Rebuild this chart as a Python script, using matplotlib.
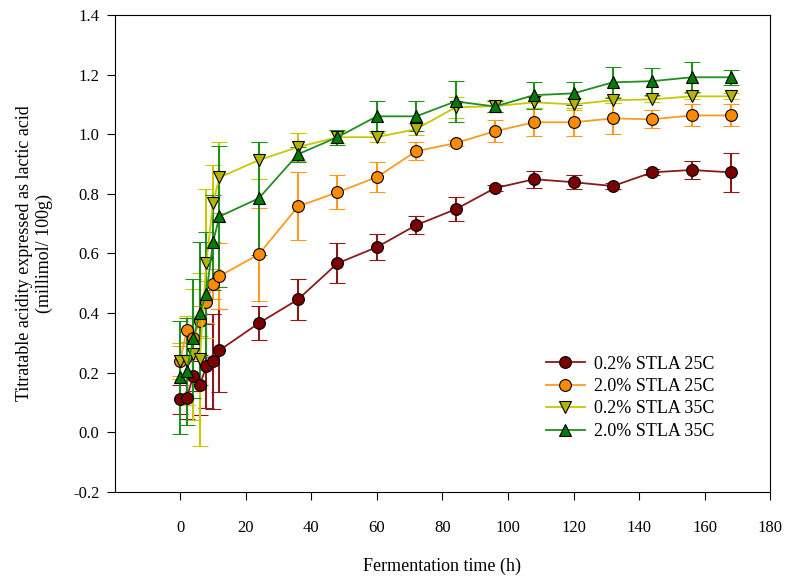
import matplotlib
matplotlib.use('Agg')
import matplotlib.pyplot as plt

plt.rcParams['font.family'] = ['Liberation Serif', 'DejaVu Serif']

# fermentation times (h)
time_h = [0, 2, 4, 6, 8, 10, 12, 24, 36, 48, 60, 72, 84, 96, 108, 120, 132, 144, 156, 168]

# 0.2% STLA 25C
s1_mean = [0.11, 0.114, 0.19, 0.158, 0.222, 0.238, 0.275, 0.366, 0.446, 0.567, 0.621, 0.695,
           0.748, 0.819, 0.849, 0.839, 0.826, 0.872, 0.88, 0.872]
s1_err = [0.05, 0.07, 0.05, 0.1, 0.14, 0.16, 0.14, 0.057, 0.068, 0.067, 0.043, 0.03,
          0.04, 0.01, 0.028, 0.024, 0.01, 0.01, 0.029, 0.066]

# 2.0% STLA 25C
s2_mean = [0.238, 0.342, 0.315, 0.372, 0.436, 0.497, 0.524, 0.597, 0.758, 0.805, 0.856, 0.943,
           0.97, 1.01, 1.04, 1.04, 1.053, 1.05, 1.063, 1.063]
s2_err = [0.05, 0.04, 0.07, 0.05, 0.07, 0.05, 0.11, 0.155, 0.114, 0.057, 0.05, 0.03,
          0.01, 0.037, 0.047, 0.047, 0.053, 0.03, 0.037, 0.037]

# 0.2% STLA 35C
s3_mean = [0.238, 0.24, 0.262, 0.245, 0.567, 0.768, 0.855, 0.913, 0.957, 0.99, 0.99, 1.017,
           1.09, 1.094, 1.107, 1.1, 1.114, 1.117, 1.127, 1.127]
s3_err = [0.06, 0.15, 0.22, 0.29, 0.25, 0.13, 0.12, 0.062, 0.046, 0.02, 0.015, 0.02,
          0.035, 0.02, 0.02, 0.02, 0.01, 0.01, 0.01, 0.01]

# 2.0% STLA 35C
s4_mean = [0.185, 0.205, 0.315, 0.4, 0.463, 0.637, 0.724, 0.785, 0.933, 0.99, 1.06, 1.06,
           1.11, 1.093, 1.131, 1.137, 1.174, 1.178, 1.191, 1.191]
s4_err = [0.19, 0.18, 0.2, 0.24, 0.21, 0.16, 0.235, 0.19, 0.025, 0.025, 0.05, 0.05,
          0.07, 0.02, 0.045, 0.038, 0.052, 0.045, 0.05, 0.025]

labels = ['0.2% STLA 25C', '2.0% STLA 25C', '0.2% STLA 35C', '2.0% STLA 35C']

fig = plt.figure(figsize=(7.9, 5.76), dpi=100)
ax = fig.add_axes([0.145, 0.146, 0.83, 0.828])

series = [
    (s1_mean, s1_err, 'o', '#7a0000', '#8b1a1a'),
    (s2_mean, s2_err, 'o', '#ff8c00', '#ff9a1f'),
    (s3_mean, s3_err, 'v', '#b4b400', '#c8c800'),
    (s4_mean, s4_err, '^', '#007a00', '#1f8f1f'),
]

for (m, e, mk, face, line), lab in zip(series, labels):
    ax.errorbar(time_h, m, yerr=e, fmt='-', marker=mk, color=line, ecolor=line,
                elinewidth=1.5, capsize=5.5, capthick=1.5, lw=1.3,
                markerfacecolor=face, markeredgecolor='black', markeredgewidth=0.8,
                markersize=8.5, label=lab)

ax.set_xlim(-20, 180)
ax.set_ylim(-0.2, 1.4)
ax.set_xticks(range(0, 181, 20))
ax.set_yticks([-0.2, 0.0, 0.2, 0.4, 0.6, 0.8, 1.0, 1.2, 1.4])
ax.set_yticklabels(['-0.2', '0.0', '0.2', '0.4', '0.6', '0.8', '1.0', '1.2', '1.4'])
ax.tick_params(direction='out', length=6, labelsize=12, top=False, right=False, pad=5)
ax.tick_params(axis='x', pad=14)

ax.set_xlabel('Fermentation time (h)', fontsize=13, labelpad=16)
ax.set_ylabel('Titratable acidity expressed as lactic acid\n(millimol/ 100g)', fontsize=13,
              labelpad=14)

handles, hl = ax.get_legend_handles_labels()
handles = [h[0] for h in handles]
ax.legend(handles, hl, loc='lower right', bbox_to_anchor=(0.94, 0.075), frameon=False,
          fontsize=13, handlelength=2.2, handletextpad=0.5, labelspacing=0.3)

fig.savefig('out.png', dpi=100)
